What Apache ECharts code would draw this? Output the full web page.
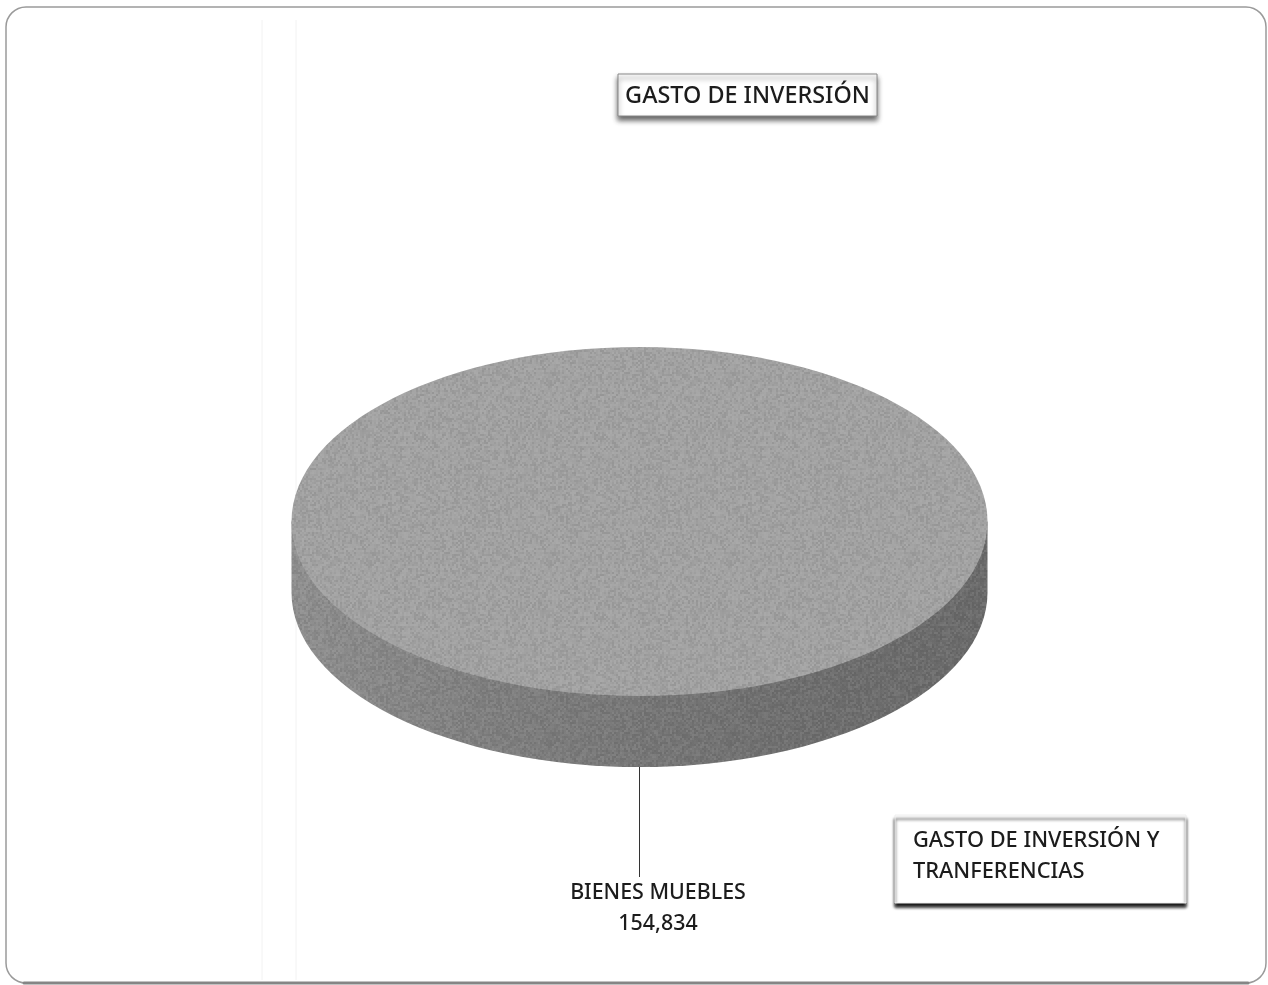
<!DOCTYPE html>
<html><head><meta charset="utf-8">
<style>html,body{margin:0;padding:0;background:#fff}#c{width:1268px;height:985px}</style>
<script src="https://cdn.jsdelivr.net/npm/echarts@6/dist/echarts.min.js"></script>
</head><body><div id="c"></div>
<script>
const categories = ['BIENES MUEBLES'];
const values = [154834];
const chartTitle = 'GASTO DE INVERSIÓN';
const noteLines = ['GASTO DE INVERSIÓN Y', 'TRANFERENCIAS'];

const FONT = '"Noto Sans","Open Sans",sans-serif';
const pie = { cx: 639.5, cy: 521.5, rx: 348, ry: 174.5, depth: 71 };

// scanned-paper grain, purely a surface texture
function grain() {
  const c = document.createElement('canvas');
  c.width = c.height = 180;
  const g = c.getContext('2d');
  for (let y = 0; y < 180; y += 2) for (let x = 0; x < 180; x += 2) {
    const s = Math.sin(x * 12.9898 + y * 78.233) * 43758.5453;
    const n = s - Math.floor(s);
    const a = (n - 0.5) * 0.16;
    g.fillStyle = a > 0 ? 'rgba(255,255,255,' + a + ')' : 'rgba(0,0,0,' + (-a) + ')';
    g.fillRect(x, y, 2, 2);
  }
  return { image: c, repeat: 'repeat' };
}
const grainFill = grain();

function box(x, y, w, h, stroke, shadowColor, blur, offY) {
  return { type: 'rect', shape: { x, y, width: w, height: h },
    style: { fill: '#fff', stroke, lineWidth: 1, shadowColor, shadowBlur: blur, shadowOffsetY: offY } };
}
function text(x, y, str, size, align) {
  return { type: 'text', x, y, style: { text: str, font: '500 ' + size + 'px ' + FONT, fill: '#1c1c1c', align, verticalAlign: 'middle' } };
}

function renderItem(params, api) {
  const { cx, cy, rx, ry, depth } = pie;
  const side = 'M' + (cx - rx) + ' ' + cy +
    ' L' + (cx - rx) + ' ' + (cy + depth) +
    ' A' + rx + ' ' + ry + ' 0 0 0 ' + (cx + rx) + ' ' + (cy + depth) +
    ' L' + (cx + rx) + ' ' + cy + ' Z';
  const sideShape = { pathData: side, layout: 'center', x: cx - rx, y: cy, width: rx * 2, height: ry + depth };
  const name = categories[params.dataIndex];
  const val = api.value(0).toLocaleString('en-US');
  return { type: 'group', children: [
    { type: 'path', shape: sideShape,
      style: { fill: { type: 'linear', x: 0, y: 0, x2: 1, y2: 0, colorStops: [
        { offset: 0, color: '#8f8f8f' }, { offset: 0.3, color: '#7e7e7e' }, { offset: 0.7, color: '#6f6f6f' }, { offset: 1, color: '#6a6a6a' } ] } } },
    { type: 'path', shape: sideShape, style: { fill: grainFill } },
    { type: 'ellipse', shape: { cx, cy, rx, ry }, style: { fill: '#a2a2a2' } },
    { type: 'ellipse', shape: { cx, cy, rx, ry }, style: { fill: grainFill } },
    { type: 'line', shape: { x1: cx, y1: cy + ry + depth, x2: cx, y2: 877 }, style: { stroke: '#333', lineWidth: 1 } },
    text(658, 893, name, 21.4, 'center'),
    text(658, 924, val, 21.4, 'center')
  ] };
}

const chart = echarts.init(document.getElementById('c'), null, { renderer: 'canvas' });
chart.setOption({
  animation: false,
  backgroundColor: '#fff',
  graphic: [
    { type: 'rect', z: 0, shape: { x: 6, y: 7, width: 1260, height: 976, r: 20 }, style: { fill: '#fff', stroke: '#9a9a9a', lineWidth: 1.5 } },
    { type: 'line', z: 0, shape: { x1: 24, y1: 983, x2: 1248, y2: 983 }, style: { stroke: '#858585', lineWidth: 3, lineCap: 'round' } },
    { type: 'line', z: 0, shape: { x1: 262, y1: 20, x2: 262, y2: 980 }, style: { stroke: '#f2f2f2', lineWidth: 1 } },
    { type: 'line', z: 0, shape: { x1: 296, y1: 20, x2: 296, y2: 980 }, style: { stroke: '#f2f2f2', lineWidth: 1 } },
    Object.assign(box(618, 74, 259, 42, '#888', 'rgba(70,70,70,0.85)', 5, 4), { z: 10 }),
    Object.assign(text(747.5, 96, chartTitle, 23.4, 'center'), { z: 11 }),
    Object.assign(box(895, 815, 291, 88, '#eeeeee', 'rgba(10,10,10,0.95)', 3, 4), { z: 10 }),
    Object.assign(text(913, 841, noteLines[0], 21.8, 'left'), { z: 11 }),
    Object.assign(text(913, 872, noteLines[1], 21.8, 'left'), { z: 11 })
  ],
  series: [{
    type: 'custom',
    coordinateSystem: 'none',
    renderItem,
    data: values.map((v, i) => ({ name: categories[i], value: [v] }))
  }]
});
</script></body></html>
